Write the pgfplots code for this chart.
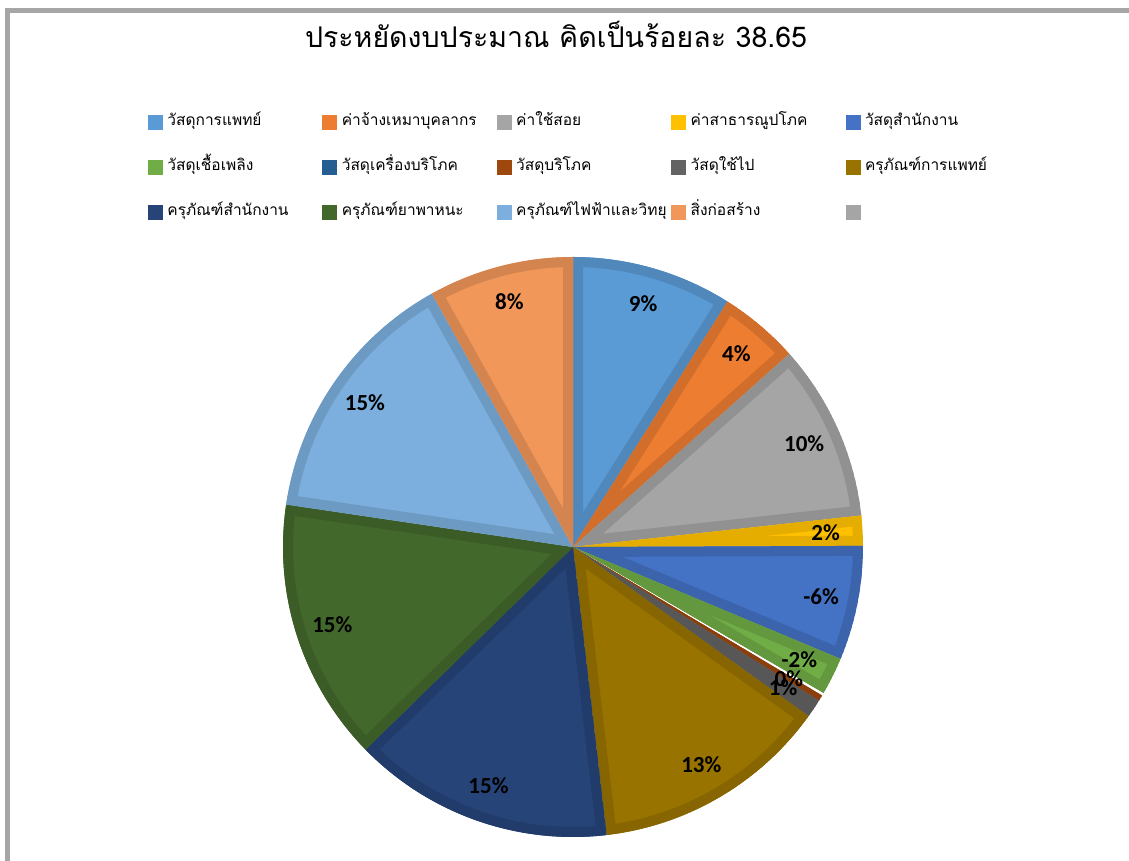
\documentclass[border=0pt]{standalone}
\usepackage{pgfplots}
\pgfplotsset{compat=1.18}
\usepackage{pgfplotstable}
\usepackage{fontspec}
\newfontfamily\thaifont[Script=Thai]{Loma}
\newfontfamily\lblfont{Carlito}

% Office palette, one colour per budget line
\definecolor{c0}{HTML}{5B9BD5}
\definecolor{c1}{HTML}{ED7D31}
\definecolor{c2}{HTML}{A5A5A5}
\definecolor{c3}{HTML}{FFC000}
\definecolor{c4}{HTML}{4472C4}
\definecolor{c5}{HTML}{70AD47}
\definecolor{c6}{HTML}{FFFFFF}
\definecolor{c7}{HTML}{9E480E}
\definecolor{c8}{HTML}{636363}
\definecolor{c9}{HTML}{997300}
\definecolor{c10}{HTML}{264478}
\definecolor{c11}{HTML}{43682B}
\definecolor{c12}{HTML}{7CAFDD}
\definecolor{c13}{HTML}{F1975A}
\definecolor{c14}{HTML}{A5A5A5}
\definecolor{leg6}{HTML}{255E91}
\definecolor{framegray}{HTML}{A6A6A6}
% slice borders: a darker shade of each fill
\colorlet{b0}{c0!88!black}
\colorlet{b1}{c1!88!black}
\colorlet{b2}{c2!88!black}
\colorlet{b3}{c3!90!black}
\colorlet{b4}{c4!88!black}
\colorlet{b5}{c5!88!black}
\colorlet{b6}{white}
\colorlet{b7}{c7!88!black}
\colorlet{b8}{c8!88!black}
\colorlet{b9}{c9!88!black}
\colorlet{b10}{c10!88!black}
\colorlet{b11}{c11!88!black}
\colorlet{b12}{c12!88!black}
\colorlet{b13}{c13!88!black}

% share of each line (%), label shown on the slice, label on/off
\pgfplotstableread{
value lab show
8.94  9   1
4.45  4   1
9.86  10  1
1.67  2   1
6.36  -6  1
2.11  -2  1
0.14  0   0
0.33  0   1
1.03  1   1
13.22 13  1
14.53 15  1
14.64 15  1
14.56 15  1
8.08  8   1
}\piedata

% pie centre and radius in axis units (1 unit = 1pt)
\def\cx{573}
\def\cy{314}
\def\rad{290}

\newcommand\piepath[1]{(axis cs:\cx,\cy) -- ++({90-\csname pieS#1\endcsname}:\rad pt)
  arc[start angle={90-\csname pieS#1\endcsname}, end angle={90-\csname pieE#1\endcsname}, radius=\rad pt] -- cycle}

\newcommand\pieslice[1]{%
  \begin{scope}
    \clip \piepath{#1};
    \fill[c#1] \piepath{#1};
    \draw[b#1, line width=20pt] \piepath{#1};
  \end{scope}}

\newcommand\pielabel[1]{%
  \ifnum\csname pieV#1\endcsname=1
    \pgfmathsetmacro\mid{90-(\csname pieS#1\endcsname+\csname pieE#1\endcsname)/2}%
    \node[font=\lblfont\bfseries\fontsize{23}{26}\selectfont, inner sep=0pt]
      at ([shift={(\mid:253pt)}]axis cs:\cx,\cy) {\csname pieL#1\endcsname\%};
  \fi}

\newcommand\legtext[1]{\hspace*{5pt}\makebox[155pt][l]{#1}}

\begin{document}
\begin{tikzpicture}
% cumulative angles, clockwise from 12 o'clock
\pgfplotstablegetrowsof{\piedata}
\pgfmathtruncatemacro\nrows{\pgfplotsretval-1}
\gdef\pietotal{0}
\foreach \i in {0,...,\nrows}{
  \pgfplotstablegetelem{\i}{value}\of\piedata
  \pgfmathsetmacro\t{\pietotal+\pgfplotsretval}
  \xdef\pietotal{\t}
}
\gdef\piecum{0}
\foreach \i in {0,...,\nrows}{
  \pgfplotstablegetelem{\i}{value}\of\piedata
  \pgfmathsetmacro\e{\piecum+360*\pgfplotsretval/\pietotal}
  \expandafter\xdef\csname pieS\i\endcsname{\piecum}
  \expandafter\xdef\csname pieE\i\endcsname{\e}
  \xdef\piecum{\e}
  \pgfplotstablegetelem{\i}{lab}\of\piedata
  \expandafter\xdef\csname pieL\i\endcsname{\pgfplotsretval}
  \pgfplotstablegetelem{\i}{show}\of\piedata
  \expandafter\xdef\csname pieV\i\endcsname{\pgfplotsretval}
}
\begin{axis}[
  x=1pt, y=1pt,
  xmin=0, xmax=1129, ymin=0, ymax=861,
  hide axis, clip=false,
  legend columns=5,
  legend cell align=left,
  legend image code/.code={\fill[#1] (0pt,-7pt) rectangle (14pt,7pt);},
  legend style={draw=none, fill=none, inner sep=0pt, outer sep=0pt,
    at={(148/1129,746/861)}, anchor=north west,
    font=\thaifont\fontsize{15.5}{18}\selectfont,
    column sep=0pt, row sep=30.5pt,
    nodes={inner sep=0pt, outer sep=0pt, text height=9pt, text depth=2pt}},
]
\pgfplotsinvokeforeach{0,...,13}{\pgfplotsextra{\pieslice{#1}}}
\pgfplotsinvokeforeach{0,...,13}{\pgfplotsextra{\pielabel{#1}}}

\addlegendimage{c0}  \addlegendentry{\legtext{วัสดุการแพทย์}}
\addlegendimage{c1}  \addlegendentry{\legtext{ค่าจ้างเหมาบุคลากร}}
\addlegendimage{c2}  \addlegendentry{\legtext{ค่าใช้สอย}}
\addlegendimage{c3}  \addlegendentry{\legtext{ค่าสาธารณูปโภค}}
\addlegendimage{c4}  \addlegendentry{\legtext{วัสดุสำนักงาน}}
\addlegendimage{c5}  \addlegendentry{\legtext{วัสดุเชื้อเพลิง}}
\addlegendimage{leg6} \addlegendentry{\legtext{วัสดุเครื่องบริโภค}}
\addlegendimage{c7}  \addlegendentry{\legtext{วัสดุบริโภค}}
\addlegendimage{c8}  \addlegendentry{\legtext{วัสดุใช้ไป}}
\addlegendimage{c9}  \addlegendentry{\legtext{ครุภัณฑ์การแพทย์}}
\addlegendimage{c10} \addlegendentry{\legtext{ครุภัณฑ์สำนักงาน}}
\addlegendimage{c11} \addlegendentry{\legtext{ครุภัณฑ์ยาพาหนะ}}
\addlegendimage{c12} \addlegendentry{\legtext{ครุภัณฑ์ไฟฟ้าและวิทยุ}}
\addlegendimage{c13} \addlegendentry{\legtext{สิ่งก่อสร้าง}}
\addlegendimage{c14} \addlegendentry{\legtext{}}

\node[font=\thaifont\fontsize{28.5}{32}\selectfont, anchor=base]
  at (axis cs:556,813) {ประหยัดงบประมาณ คิดเป็นร้อยละ 38.65};
\draw[framegray, line width=5pt] (axis cs:7.5,0) -- (axis cs:7.5,850.2) -- (axis cs:1129,850.2);
\coordinate (bbA) at (axis cs:0,0);
\coordinate (bbB) at (axis cs:1129,861);
\end{axis}
\pgfresetboundingbox
\useasboundingbox (bbA) rectangle (bbB);
\end{tikzpicture}
\end{document}
